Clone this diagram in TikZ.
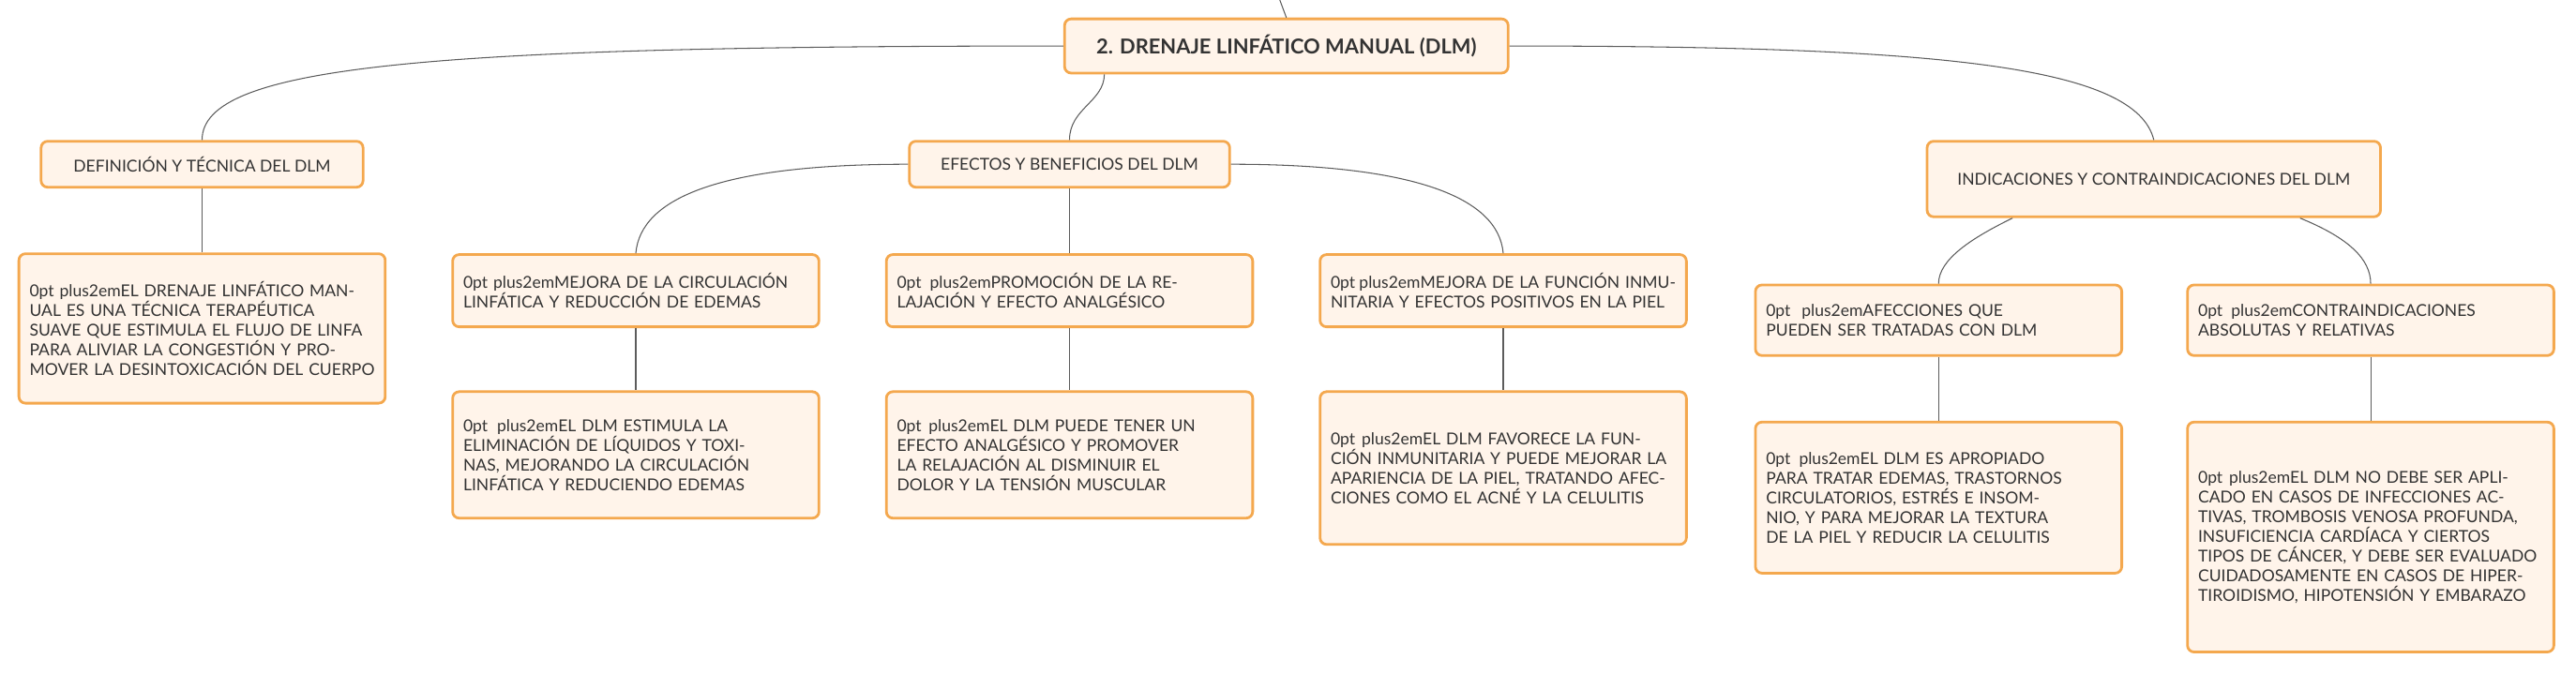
\documentclass[tikz,border=0pt]{standalone}
\usepackage{fontspec}
\setmainfont{Lato}
\definecolor{boxline}{HTML}{F4A84E}
\definecolor{boxfill}{HTML}{FFF4EA}
\definecolor{ink}{HTML}{333333}
\tikzset{
  topic/.style={rectangle, rounded corners=4pt, draw=boxline, fill=boxfill, line width=1.6pt, text=ink, align=center, inner sep=4pt},
  root/.style={topic, font=\bfseries\fontsize{12.5}{15}\selectfont, minimum width=270pt, minimum height=33pt},
  branch/.style={topic, font=\fontsize{10}{15}\selectfont},
  leaf/.style={topic, font=\hyphenpenalty=10000\fontsize{9.4}{15.5}\selectfont, text width=210pt, minimum width=223pt},
  link/.style={draw=ink!80, line width=0.6pt}
}
\begin{document}
\begin{tikzpicture}[x=1pt, y=-1pt]
    \useasboundingbox (0,0) rectangle (1568,410);
    % Nodes
    \node (dlm) [root] at (783,28) {2. DRENAJE LINFÁTICO MANUAL (DLM)};
    \coordinate (up) at (779,0);
    \node (def) [branch, minimum width=196pt, minimum height=28pt] at (123,100) {DEFINICIÓN Y TÉCNICA DEL DLM};
    \node (efe) [branch, minimum width=195pt, minimum height=28pt] at (651,100) {EFECTOS Y BENEFICIOS DEL DLM};
    \node (ind) [branch, minimum width=276pt, minimum height=46pt] at (1311,109) {INDICACIONES Y CONTRAINDICACIONES DEL DLM};
    \node (defTxt) [leaf, minimum height=91pt] at (123,200) {EL DRENAJE LINFÁTICO MANUAL ES UNA TÉCNICA TERAPÉUTICA SUAVE QUE ESTIMULA EL FLUJO DE LINFA PARA ALIVIAR LA CONGESTIÓN Y PROMOVER LA DESINTOXICACIÓN DEL CUERPO};
    \node (circ) [leaf, minimum height=44pt] at (387,177) {MEJORA DE LA CIRCULACIÓN LINFÁTICA Y REDUCCIÓN DE EDEMAS};
    \node (rela) [leaf, minimum height=44pt] at (651,177) {PROMOCIÓN DE LA RELAJACIÓN Y EFECTO ANALGÉSICO};
    \node (inmu) [leaf, minimum height=44pt] at (915,177) {MEJORA DE LA FUNCIÓN INMUNITARIA Y EFECTOS POSITIVOS EN LA PIEL};
    \node (circTxt) [leaf, minimum height=77pt] at (387,277) {EL DLM ESTIMULA LA ELIMINACIÓN DE LÍQUIDOS Y TOXINAS, MEJORANDO LA CIRCULACIÓN LINFÁTICA Y REDUCIENDO EDEMAS};
    \node (relaTxt) [leaf, minimum height=77pt] at (651,277) {EL DLM PUEDE TENER UN EFECTO ANALGÉSICO Y PROMOVER LA RELAJACIÓN AL DISMINUIR EL DOLOR Y LA TENSIÓN MUSCULAR};
    \node (inmuTxt) [leaf, minimum height=93pt] at (915,285) {EL DLM FAVORECE LA FUNCIÓN INMUNITARIA Y PUEDE MEJORAR LA APARIENCIA DE LA PIEL, TRATANDO AFECCIONES COMO EL ACNÉ Y LA CELULITIS};
    \node (afec) [leaf, minimum height=43pt] at (1180,195) {AFECCIONES QUE PUEDEN SER TRATADAS CON DLM};
    \node (contra) [leaf, minimum height=43pt] at (1443,195) {CONTRAINDICACIONES ABSOLUTAS Y RELATIVAS};
    \node (afecTxt) [leaf, minimum height=92pt] at (1180,303) {EL DLM ES APROPIADO PARA TRATAR EDEMAS, TRASTORNOS CIRCULATORIOS, ESTRÉS E INSOMNIO, Y PARA MEJORAR LA TEXTURA DE LA PIEL Y REDUCIR LA CELULITIS};
    \node (contraTxt) [leaf, minimum height=140pt] at (1443,327) {EL DLM NO DEBE SER APLICADO EN CASOS DE INFECCIONES ACTIVAS, TROMBOSIS VENOSA PROFUNDA, INSUFICIENCIA CARDÍACA Y CIERTOS TIPOS DE CÁNCER, Y DEBE SER EVALUADO CUIDADOSAMENTE EN CASOS DE HIPERTIROIDISMO, HIPOTENSIÓN Y EMBARAZO};

    % Links
    \draw [link] (up) -- (dlm.north);
    \draw [link] (dlm.west) .. controls (260,28) and (123,40) .. (def.north);
    \draw [link] (dlm.south west) ++(25,0) .. controls (672,62) and (651,66) .. (efe.north);
    \draw [link] (dlm.east) .. controls (1180,28) and (1300,40) .. (ind.north);
    \draw [link] (efe.west) .. controls (440,100) and (390,120) .. (circ.north);
    \draw [link] (efe) -- (rela);
    \draw [link] (efe.east) .. controls (860,100) and (912,120) .. (inmu.north);
    \draw [link] (ind.south) ++(-86,0) .. controls (1200,145) and (1180,158) .. (afec.north);
    \draw [link] (ind.south) ++(89,0) .. controls (1430,145) and (1443,158) .. (contra.north);
    \draw [link] (def) -- (defTxt);
    \draw [link] (circ) -- (circTxt);
    \draw [link] (rela) -- (relaTxt);
    \draw [link] (inmu) -- (inmuTxt);
    \draw [link] (afec) -- (afecTxt);
    \draw [link] (contra) -- (contraTxt);
\end{tikzpicture}
\end{document}
